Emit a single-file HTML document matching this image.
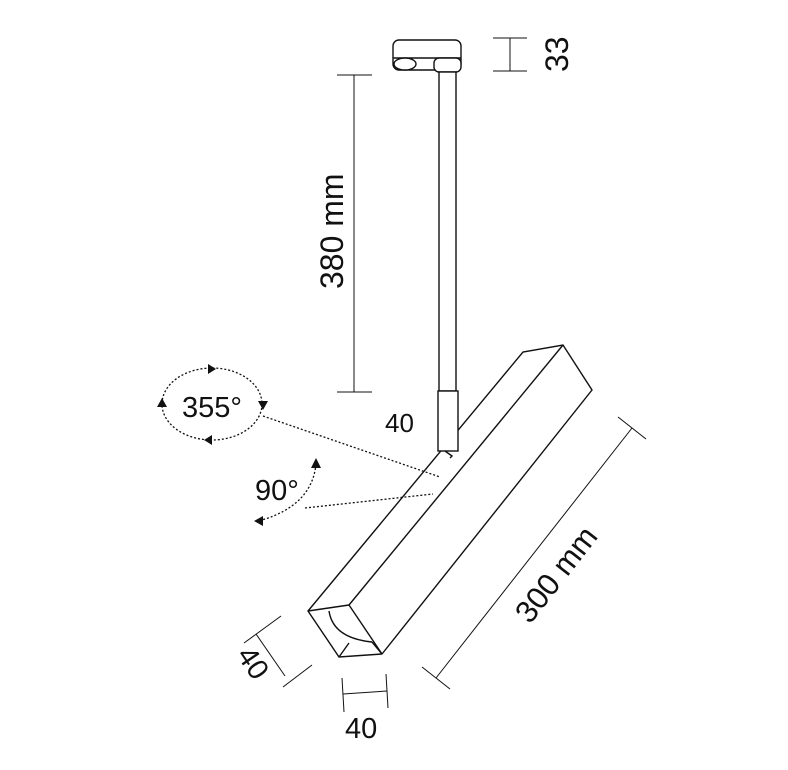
<!DOCTYPE html>
<html><head><style>
html,body{margin:0;padding:0;background:#fff;}
svg{display:block;}
text{font-family:"Liberation Sans",sans-serif;fill:#111;}
</style></head><body>
<svg width="788" height="770" viewBox="0 0 788 770" xmlns="http://www.w3.org/2000/svg">
<g fill="none" stroke="#111" stroke-width="1.4">
<!-- box -->
<path d="M308 611 L523 352 L563 345 L592 390 L382 654 L339 657 Z" fill="#fff"/>
<line x1="308" y1="611" x2="349" y2="605"/>
<line x1="349" y1="605" x2="563" y2="345"/>
<line x1="349" y1="605" x2="382" y2="654"/>
<line x1="339" y1="657" x2="349" y2="643"/>
<line x1="372" y1="642" x2="382" y2="654"/>
<path d="M329 611 Q333 638 372 642" />
<!-- base bracket -->
<rect x="393" y="40" width="68" height="30" rx="6" fill="#fff"/>
<line x1="393" y1="58" x2="461" y2="58"/>
<ellipse cx="405" cy="64" rx="11" ry="6" fill="#fff"/>
<rect x="434" y="58" width="27" height="14" rx="5" fill="#fff"/>
<!-- rod -->
<rect x="439" y="72" width="17" height="319" fill="#fff"/>
<rect x="438" y="391" width="20" height="60" fill="#fff"/>
<path d="M445 451 L452 456 L450 458"/>
<!-- 33 dim -->
<line x1="493" y1="38" x2="527" y2="38" stroke-width="1"/>
<line x1="493" y1="71" x2="527" y2="71" stroke-width="1"/>
<line x1="510" y1="38" x2="510" y2="71" stroke-width="1"/>
<!-- 380 dim -->
<line x1="337" y1="75" x2="372" y2="75" stroke-width="1"/>
<line x1="337" y1="392" x2="372" y2="392" stroke-width="1"/>
<line x1="354" y1="75" x2="354" y2="392" stroke-width="1"/>
<!-- 300 dim -->
<line x1="436" y1="678" x2="632" y2="428" stroke-width="1"/>
<line x1="422" y1="667" x2="450" y2="689" stroke-width="1"/>
<line x1="618" y1="417" x2="646" y2="439" stroke-width="1"/>
<!-- 40 left dim -->
<line x1="256" y1="634" x2="285" y2="676" stroke-width="1"/>
<line x1="244" y1="643" x2="281" y2="616" stroke-width="1"/>
<line x1="283" y1="687" x2="312" y2="665" stroke-width="1"/>
<!-- 40 bottom dim -->
<line x1="343" y1="694" x2="387" y2="691" stroke-width="1"/>
<line x1="342" y1="678" x2="344" y2="712" stroke-width="1"/>
<line x1="386" y1="674" x2="388" y2="708" stroke-width="1"/>
</g>
<g fill="none" stroke="#111" stroke-width="1.3" stroke-dasharray="2 2">
<ellipse cx="212" cy="404" rx="50" ry="36"/>
<line x1="263" y1="416" x2="440" y2="477"/>
<line x1="305" y1="508" x2="433" y2="494"/>
<path d="M316 464 Q312 505 262 520"/>
</g>
<g fill="#111">
<path d="M216 369 L208 364 L208 374 Z"/>
<path d="M263 410 L258 401 L268 401 Z"/>
<path d="M162 398 L157 407 L167 407 Z"/>
<path d="M204 440 L212 435 L212 445 Z"/>
<path d="M316 458 L311 468 L321 468 Z"/>
<path d="M254 521 L263 516 L263 526 Z"/>
</g>
<text x="182" y="417" font-size="29">355°</text>
<text x="255" y="500" font-size="29">90°</text>
<text x="385" y="432" font-size="26" fill="#333">40</text>
<text x="345" y="738" font-size="29">40</text>
<text transform="translate(236,655) rotate(56)" font-size="29">40</text>
<text transform="translate(568,72) rotate(-90)" font-size="32">33</text>
<text transform="translate(343,289) rotate(-90)" font-size="32">380 mm</text>
<text transform="translate(530,625) rotate(-52)" font-size="31">300 mm</text>
</svg>
</body></html>
